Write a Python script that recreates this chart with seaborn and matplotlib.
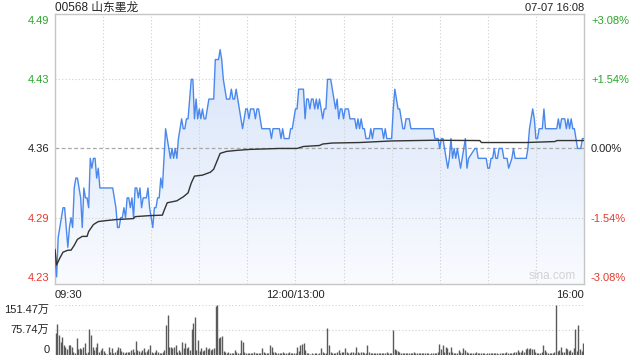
import numpy as np
import matplotlib
matplotlib.use("Agg")
import matplotlib.pyplot as plt
import seaborn as sns
from matplotlib.colors import LinearSegmentedColormap

title = "00568 山东墨龙"
stamp = "07-07 16:08"
price_ticks = [4.23, 4.29, 4.36, 4.43, 4.49]
price_tick_labels = ["4.23", "4.29", "4.36", "4.43", "4.49"]
pct_labels = ["-3.08%", "-1.54%", "0.00%", "+1.54%", "+3.08%"]
tick_colors = ["#e8382a", "#e8382a", "#222222", "#2aa52a", "#2aa52a"]
time_ticks = [0, 150, 330]
time_labels = ["09:30", "12:00/13:00", "16:00"]
vol_ticks = [0, 75.74, 151.47]
vol_labels = ["0", "75.74万", "151.47万"]

# minute since 09:30 (lunch break removed) and price
price_min = [0, 1, 2, 5, 6, 8, 9, 10, 11, 12, 13, 14, 16, 17, 18, 19, 20, 21, 22, 23,
             24, 25, 26, 27, 28, 36, 37, 38, 39, 40, 41, 42, 43, 44, 45, 46, 47, 48, 49, 50,
             51, 52, 53, 54, 55, 56, 57, 58, 59, 61, 62, 63, 64, 65, 66, 67, 68, 69, 70, 71,
             72, 73, 74, 75, 76, 77, 78, 79, 80, 81, 82, 83, 84, 85, 86, 87, 88, 89, 90, 91,
             92, 93, 94, 95, 96, 99, 100, 102, 103, 104, 105, 106, 107, 109, 110, 111, 112, 113, 114, 115,
             116, 117, 118, 119, 120, 121, 122, 124, 125, 126, 127, 128, 129, 134, 135, 136, 140, 141, 142, 143,
             146, 147, 148, 149, 150, 151, 152, 155, 156, 157, 158, 159, 160, 161, 162, 163, 164, 165, 166, 167,
             168, 169, 170, 172, 173, 174, 175, 176, 177, 178, 179, 180, 181, 183, 184, 187, 188, 189, 190, 191,
             192, 193, 194, 196, 197, 198, 199, 204, 205, 206, 207, 210, 211, 212, 213, 214, 215, 216, 217, 218,
             219, 221, 222, 236, 237, 239, 240, 241, 242, 243, 244, 245, 246, 247, 248, 249, 250, 251, 252, 253,
             254, 255, 256, 257, 258, 262, 263, 264, 269, 270, 271, 272, 273, 274, 275, 276, 277, 279, 280, 282,
             283, 285, 286, 287, 294, 295, 296, 297, 298, 299, 300, 301, 302, 304, 305, 306, 313, 314, 315, 316,
             318, 319, 320, 321, 322, 323, 324, 325, 326, 328, 329, 330]
price_val = [4.25, 4.23, 4.27, 4.30, 4.30, 4.26, 4.28, 4.29, 4.28, 4.32, 4.33, 4.33, 4.31, 4.28, 4.32, 4.31, 4.31, 4.30, 4.35, 4.34,
             4.35, 4.35, 4.33, 4.34, 4.32, 4.32, 4.31, 4.30, 4.28, 4.28, 4.29, 4.29, 4.30, 4.29, 4.31, 4.31, 4.30, 4.31, 4.29, 4.32,
             4.32, 4.31, 4.32, 4.30, 4.31, 4.31, 4.31, 4.32, 4.30, 4.28, 4.30, 4.30, 4.31, 4.31, 4.33, 4.32, 4.35, 4.38, 4.37, 4.36,
             4.35, 4.36, 4.35, 4.36, 4.35, 4.37, 4.38, 4.39, 4.38, 4.38, 4.39, 4.39, 4.41, 4.43, 4.43, 4.39, 4.41, 4.39, 4.40, 4.39,
             4.40, 4.39, 4.39, 4.40, 4.41, 4.41, 4.45, 4.45, 4.46, 4.45, 4.43, 4.42, 4.41, 4.41, 4.42, 4.41, 4.41, 4.42, 4.41, 4.40,
             4.39, 4.38, 4.39, 4.40, 4.40, 4.39, 4.40, 4.40, 4.39, 4.40, 4.40, 4.39, 4.38, 4.38, 4.37, 4.38, 4.38, 4.37, 4.38, 4.37,
             4.37, 4.38, 4.38, 4.39, 4.40, 4.40, 4.42, 4.42, 4.39, 4.41, 4.41, 4.40, 4.41, 4.41, 4.40, 4.41, 4.40, 4.41, 4.40, 4.39,
             4.40, 4.40, 4.43, 4.43, 4.42, 4.41, 4.40, 4.41, 4.39, 4.40, 4.40, 4.39, 4.40, 4.40, 4.39, 4.39, 4.38, 4.39, 4.38, 4.39,
             4.38, 4.38, 4.37, 4.37, 4.38, 4.37, 4.38, 4.38, 4.37, 4.38, 4.37, 4.37, 4.40, 4.42, 4.41, 4.40, 4.40, 4.39, 4.38, 4.38,
             4.39, 4.39, 4.38, 4.38, 4.37, 4.37, 4.36, 4.37, 4.37, 4.36, 4.35, 4.34, 4.35, 4.37, 4.35, 4.36, 4.35, 4.36, 4.35, 4.34,
             4.35, 4.36, 4.37, 4.34, 4.35, 4.36, 4.36, 4.35, 4.35, 4.34, 4.34, 4.35, 4.35, 4.36, 4.35, 4.35, 4.36, 4.36, 4.35, 4.35,
             4.34, 4.35, 4.36, 4.35, 4.35, 4.36, 4.38, 4.39, 4.40, 4.39, 4.37, 4.37, 4.38, 4.38, 4.40, 4.38, 4.38, 4.39, 4.38, 4.39,
             4.39, 4.38, 4.39, 4.38, 4.39, 4.38, 4.38, 4.37, 4.36, 4.36, 4.37, 4.37]

avg_min = [0, 1, 3, 5, 8, 10, 12, 14, 17, 20, 21, 24, 27, 32, 38, 49, 50, 59, 67, 68,
           70, 76, 80, 83, 85, 87, 92, 97, 99, 101, 103, 107, 113, 121, 140, 151, 155, 165, 167, 173,
           190, 210, 236, 265, 266, 294, 312, 313, 330]
avg_val = [4.258, 4.242, 4.249, 4.255, 4.257, 4.257, 4.262, 4.268, 4.271, 4.271, 4.276, 4.283, 4.286, 4.287, 4.288, 4.289, 4.291, 4.292, 4.2925, 4.297,
           4.305, 4.307, 4.311, 4.315, 4.325, 4.332, 4.333, 4.336, 4.339, 4.347, 4.355, 4.357, 4.358, 4.359, 4.360, 4.360, 4.362, 4.363, 4.3645, 4.3655,
           4.366, 4.3676, 4.3683, 4.368, 4.366, 4.366, 4.367, 4.368, 4.368]

# volume per minute, in 万
volume = [66, 94, 60, 40, 55, 30, 23, 17, 30, 30,
          25, 10, 7, 50, 17, 20, 17, 25, 35, 5,
          10, 78, 60, 25, 15, 23, 35, 10, 15, 20,
          13, 5, 3, 23, 10, 22, 7, 10, 15, 23,
          20, 13, 8, 6, 10, 8, 10, 15, 17, 10,
          42, 15, 12, 10, 15, 20, 10, 13, 17, 30,
          10, 5, 10, 15, 10, 7, 5, 10, 15, 91,
          121, 23, 23, 20, 25, 30, 10, 15, 10, 38,
          20, 35, 20, 25, 15, 78, 98, 116, 15, 45,
          13, 20, 13, 15, 23, 17, 20, 15, 17, 20,
          148, 151, 52, 55, 57, 13, 10, 7, 8, 5,
          7, 6, 15, 8, 5, 6, 45, 40, 8, 6,
          5, 7, 6, 5, 8, 6, 5, 7, 6, 20,
          8, 6, 5, 7, 30, 25, 10, 8, 6, 5,
          7, 6, 8, 5, 6, 7, 8, 6, 5, 7,
          6, 25, 13, 30, 32, 35, 15, 6, 5, 4,
          5, 4, 6, 5, 4, 6, 20, 8, 5, 6,
          81, 30, 8, 6, 5, 7, 10, 15, 7, 8,
          10, 20, 8, 7, 6, 8, 10, 7, 23, 8,
          6, 10, 8, 7, 6, 30, 8, 6, 7, 5,
          6, 5, 7, 6, 5, 7, 6, 8, 5, 6,
          7, 76, 17, 15, 13, 8, 6, 7, 5, 6,
          5, 7, 6, 5, 8, 6, 7, 5, 6, 5,
          7, 6, 5, 6, 4, 5, 6, 5, 7, 8,
          33, 17, 30, 8, 25, 20, 10, 23, 8, 6,
          7, 5, 15, 8, 6, 20, 15, 8, 6, 7,
          5, 6, 7, 8, 6, 5, 7, 6, 5, 4,
          6, 5, 7, 6, 5, 6, 5, 4, 6, 7,
          5, 6, 8, 6, 7, 5, 6, 8, 10, 15,
          8, 10, 15, 8, 17, 20, 17, 20, 17, 17,
          8, 5, 6, 7, 8, 30, 15, 8, 6, 7,
          5, 6, 8, 151, 12, 15, 23, 10, 8, 20,
          17, 13, 15, 10, 20, 78, 13, 91, 17, 13,
          37]

sns.set_theme(style="white")
plt.rcParams["font.family"] = ["Liberation Sans", "Noto Sans CJK SC", "DejaVu Sans"]

W, H = 640, 360
fig = plt.figure(figsize=(W / 100, H / 100), dpi=100)
fig.patch.set_facecolor("white")

ax = fig.add_axes([55 / W, (H - 284) / H, 529 / W, 270 / H])
axv = fig.add_axes([55 / W, 5 / H, 529 / W, 50 / H])

ylo, yhi = 4.2228, 4.4961
xlo, xhi = 0, 330

# gradient fill under the price line
cmap = LinearSegmentedColormap.from_list("fill", ["#f9fbff", "#d3e1f8"])
poly = ax.fill_between(price_min, price_val, ylo, facecolor="none", edgecolor="none")
im = ax.imshow(np.linspace(0, 1, 256).reshape(-1, 1), extent=[xlo, xhi, ylo, yhi],
               origin="lower", aspect="auto", cmap=cmap, zorder=1)
im.set_clip_path(poly.get_paths()[0], transform=ax.transData)

grid_kw = dict(color="#cfcfcf", lw=0.8, ls=(0, (1, 2)), zorder=2)
for gx in range(30, 330, 30):
    ax.axvline(gx, **grid_kw)
for gy in [4.43, 4.29]:
    ax.axhline(gy, **grid_kw)
ax.axhline(4.36, color="#a8a8a8", lw=0.9, ls=(0, (3, 2)), zorder=2)

sns.lineplot(x=price_min, y=price_val, ax=ax, color="#4a88ee", lw=1.0, zorder=4)
sns.lineplot(x=avg_min, y=avg_val, ax=ax, color="#333333", lw=1.0, zorder=5)

ax.set_xlim(xlo, xhi)
ax.set_ylim(ylo, yhi)
ax.set_xlabel("")
ax.set_ylabel("")
ax.set_yticks(price_ticks)
ax.set_yticklabels(price_tick_labels)
ax.set_xticks(time_ticks)
ax.set_xticklabels(time_labels)
for lbl, ha in zip(ax.get_xticklabels(), ["left", "center", "right"]):
    lbl.set_ha(ha)
ax.tick_params(axis="both", length=0, labelsize=8, colors="#222222")
ax.tick_params(axis="y", pad=4)
ax.tick_params(axis="x", pad=4)
for lbl, c in zip(ax.get_yticklabels(), tick_colors):
    lbl.set_color(c)
for s in ax.spines.values():
    s.set_color("#c6c6c6")
    s.set_linewidth(1.0)

axr = ax.twinx()
axr.set_ylim(ylo, yhi)
axr.set_yticks(price_ticks)
axr.set_yticklabels(pct_labels)
axr.tick_params(axis="y", length=0, labelsize=8, pad=5)
for lbl, c in zip(axr.get_yticklabels(), tick_colors):
    lbl.set_color(c)
for s in axr.spines.values():
    s.set_visible(False)

ax.text(0.985, 0.008, "sina.com", transform=ax.transAxes, ha="right", va="bottom",
        color="#d2d2d2", fontsize=8.5, zorder=6)

# volume panel
axv.vlines(np.arange(len(volume)), 0, volume, color="#5a5a5a", lw=1.0, zorder=3)
axv.set_xlim(-0.5, 330.5)
axv.set_ylim(0, 151.47)
for gy in [151.47, 75.74]:
    axv.axhline(gy, color="#cfcfcf", lw=0.8, ls=(0, (1, 2)), zorder=1)
axv.set_xticks([])
axv.set_yticks(vol_ticks)
axv.set_yticklabels(vol_labels)
for lbl, va in zip(axv.get_yticklabels(), ["bottom", "center", "top"]):
    lbl.set_va(va)
axv.tick_params(axis="y", length=0, labelsize=8, pad=4, colors="#222222")
for s in axv.spines.values():
    s.set_visible(False)
axv.set_facecolor("none")

fig.text(55 / W, 1 - 8 / H, title, ha="left", va="center", fontsize=8.5, color="#222222")
fig.text(584 / W, 1 - 8 / H, stamp, ha="right", va="center", fontsize=8, color="#222222")

fig.savefig("out.png", dpi=100, facecolor="white")
